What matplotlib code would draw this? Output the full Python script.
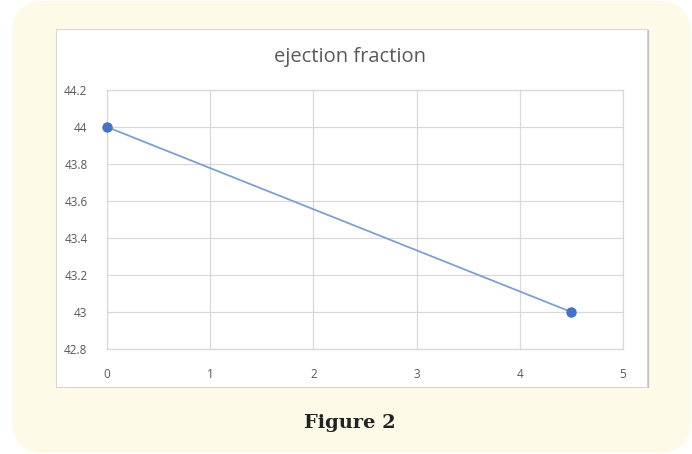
import matplotlib.pyplot as plt
from matplotlib.patches import FancyBboxPatch, Rectangle

# Ejection fraction series
months = [0, 4.5]
ejection = [44, 43]
x_ticks = [0, 1, 2, 3, 4, 5]
y_ticks = [42.8, 43, 43.2, 43.4, 43.6, 43.8, 44, 44.2]
y_labels = ['42.8', '43', '43.2', '43.4', '43.6', '43.8', '44', '44.2']

W, H = 692, 454
fig = plt.figure(figsize=(W / 100, H / 100), dpi=100, facecolor='white')

# background layer in pixel units: cream card and white chart area
bg = fig.add_axes([0, 0, 1, 1])
bg.set_xlim(0, W)
bg.set_ylim(H, 0)
bg.axis('off')
bg.add_patch(FancyBboxPatch((12, 1), 679, 452,
                            boxstyle='round,pad=0,rounding_size=33',
                            facecolor='#fefae8', edgecolor='none'))
bg.add_patch(Rectangle((56, 29), 591, 358, facecolor='white',
                       edgecolor='#d6d6d6', linewidth=0.8))
bg.plot([647.5, 647.5], [29.5, 387], color='#c4c4c4', linewidth=1.0)

ax = fig.add_axes([107 / W, 1 - 349 / H, (623 - 107) / W, (349 - 90) / H])
ax.set_facecolor('white')
ax.plot(months, ejection, color='#7f9ed2', linewidth=1.3, zorder=3)
ax.plot(months, ejection, 'o', color='#4472c4', markersize=6.5, zorder=4,
        clip_on=False)

ax.set_xlim(0, 5)
ax.set_ylim(42.8, 44.2)
ax.set_xticks(x_ticks)
ax.set_yticks(y_ticks)
ax.set_yticklabels(y_labels)
ax.grid(True, color='#d9d9d9', linewidth=0.9)
ax.set_axisbelow(True)
for side in ['top', 'right', 'left', 'bottom']:
    ax.spines[side].set_color('#d9d9d9')
    ax.spines[side].set_linewidth(0.9)
ax.tick_params(length=0, labelsize=8.5, labelcolor='#595959')
ax.tick_params(axis='y', pad=14)
ax.tick_params(axis='x', pad=14)
for lab in ax.get_xticklabels() + ax.get_yticklabels():
    lab.set_family('Open Sans')

fig.text(350 / W, 1 - 57 / H, 'ejection fraction', ha='center', va='center',
         fontsize=14.5, color='#595959', family='Open Sans')
fig.text(350 / W, 1 - 423 / H, 'Figure 2', ha='center', va='center',
         fontsize=14, fontweight='bold', color='#222222', family='DejaVu Serif')

fig.savefig('out.png', dpi=100, facecolor='white')
